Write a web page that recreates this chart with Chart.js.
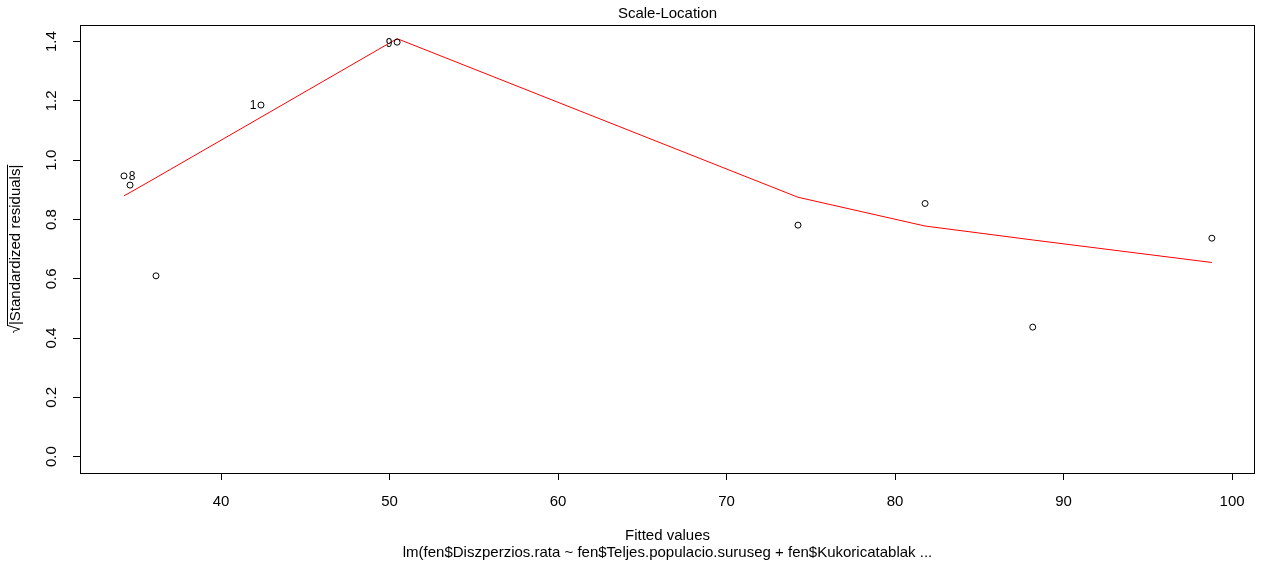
<!DOCTYPE html>
<html lang="en">
<head>
<meta charset="UTF-8">
<title>Scale-Location</title>
<script src="https://cdn.jsdelivr.net/npm/chart.js"></script>
<style>
  html, body { margin: 0; padding: 0; background: #fff; }
  #wrap { width: 1263px; height: 571px; }
</style>
</head>
<body>
<div id="wrap"><canvas id="slChart" width="1263" height="571"></canvas></div>
<script>
// fitted values vs sqrt(|standardized residuals|)
const fitted     = [34.24, 34.60, 36.14, 42.37, 50.45, 74.24, 81.78, 88.17, 98.80];
const sqrtStdRes = [0.947, 0.916, 0.610, 1.186, 1.398, 0.781, 0.854, 0.437, 0.737];
const obsLabels  = ['8', '', '', '1', '9', '', '', '', ''];
// lowess smoother evaluated at the fitted values
const smoothY    = [0.880, 0.891, 0.941, 1.145, 1.410, 0.875, 0.778, 0.731, 0.655];
const xTicks = [40, 50, 60, 70, 80, 90, 100];
const yTicks = [0.0, 0.2, 0.4, 0.6, 0.8, 1.0, 1.2, 1.4];

const FONT = '"Liberation Sans", Arial, sans-serif';
// which side of the point each id label sits on (R text pos 2 / 4)
const labelShift = { '8': 8, '1': -8, '9': -8 };

const rDecor = {
  id: 'rDecor',
  afterDraw(chart) {
    const { ctx, chartArea: a, scales } = chart;
    const cx = (a.left + a.right) / 2;
    ctx.save();
    ctx.strokeStyle = '#000';
    ctx.lineWidth = 1;
    ctx.strokeRect(a.left + 0.5, a.top + 0.5, a.right - a.left - 1, a.bottom - a.top);

    ctx.fillStyle = '#000';
    ctx.textAlign = 'center';
    ctx.textBaseline = 'middle';

    // y tick labels run parallel to the axis
    ctx.font = '15px ' + FONT;
    scales.y.ticks.forEach(t => {
      const py = scales.y.getPixelForValue(t.value);
      ctx.save();
      ctx.translate(52, py);
      ctx.rotate(-Math.PI / 2);
      ctx.fillText(t.value.toFixed(1), 0, 0);
      ctx.restore();
    });

    // point ids
    ctx.font = '12px ' + FONT;
    const meta = chart.getDatasetMeta(0);
    obsLabels.forEach((lab, i) => {
      if (!lab) return;
      const p = meta.data[i];
      ctx.fillText(lab, p.x + labelShift[lab], p.y + 1);
    });

    ctx.font = '15px ' + FONT;
    ctx.fillText('Scale-Location', cx, 14);
    ctx.fillText('Fitted values', cx, 536);
    ctx.fillText('lm(fen$Diszperzios.rata ~ fen$Teljes.populacio.suruseg + fen$Kukoricatablak ...', cx, 553);

    // y title with radical and overbar
    const rad = '\u221A';
    const body = '|Standardized residuals|';
    const wr = ctx.measureText(rad).width;
    const wb = ctx.measureText(body).width;
    const x0 = -(wr + wb) / 2;
    ctx.save();
    ctx.translate(16, (a.top + a.bottom) / 2);
    ctx.rotate(-Math.PI / 2);
    ctx.textAlign = 'left';
    ctx.fillText(rad, x0, 0);
    ctx.fillText(body, x0 + wr, 0);
    ctx.beginPath();
    ctx.moveTo(x0 + wr - 1, -8.5);
    ctx.lineTo(x0 + wr + wb, -8.5);
    ctx.stroke();
    ctx.restore();

    ctx.restore();
  }
};

new Chart(document.getElementById('slChart'), {
  type: 'scatter',
  data: {
    datasets: [
      {
        data: fitted.map((x, i) => ({ x: x, y: sqrtStdRes[i] })),
        pointStyle: 'circle',
        pointRadius: 3,
        pointBorderWidth: 1,
        pointBorderColor: '#000',
        pointBackgroundColor: 'rgba(0,0,0,0)',
        showLine: false
      },
      {
        type: 'line',
        data: fitted.map((x, i) => ({ x: x, y: smoothY[i] })),
        borderColor: '#ff0000',
        borderWidth: 1,
        pointRadius: 0,
        tension: 0,
        fill: false
      }
    ]
  },
  options: {
    responsive: false,
    devicePixelRatio: 1,
    animation: false,
    layout: { padding: { top: 25, right: 8, left: 0, bottom: 0 } },
    plugins: { legend: { display: false }, tooltip: { enabled: false } },
    scales: {
      x: {
        type: 'linear',
        min: 31.63,
        max: 101.36,
        afterBuildTicks: s => { s.ticks = xTicks.map(v => ({ value: v })); },
        afterFit: s => { s.height = 98; },
        border: { display: false },
        grid: { drawOnChartArea: false, drawTicks: true, tickLength: 7, tickColor: '#000', lineWidth: 1 },
        ticks: { color: '#000', font: { size: 15, family: FONT }, padding: 13, maxRotation: 0, autoSkip: false }
      },
      y: {
        type: 'linear',
        min: -0.055,
        max: 1.456,
        afterBuildTicks: s => { s.ticks = yTicks.map(v => ({ value: v })); },
        afterFit: s => { s.width = 80; },
        border: { display: false },
        grid: { drawOnChartArea: false, drawTicks: true, tickLength: 7, tickColor: '#000', lineWidth: 1 },
        ticks: { display: false }
      }
    }
  },
  plugins: [rDecor]
});
</script>
</body>
</html>
